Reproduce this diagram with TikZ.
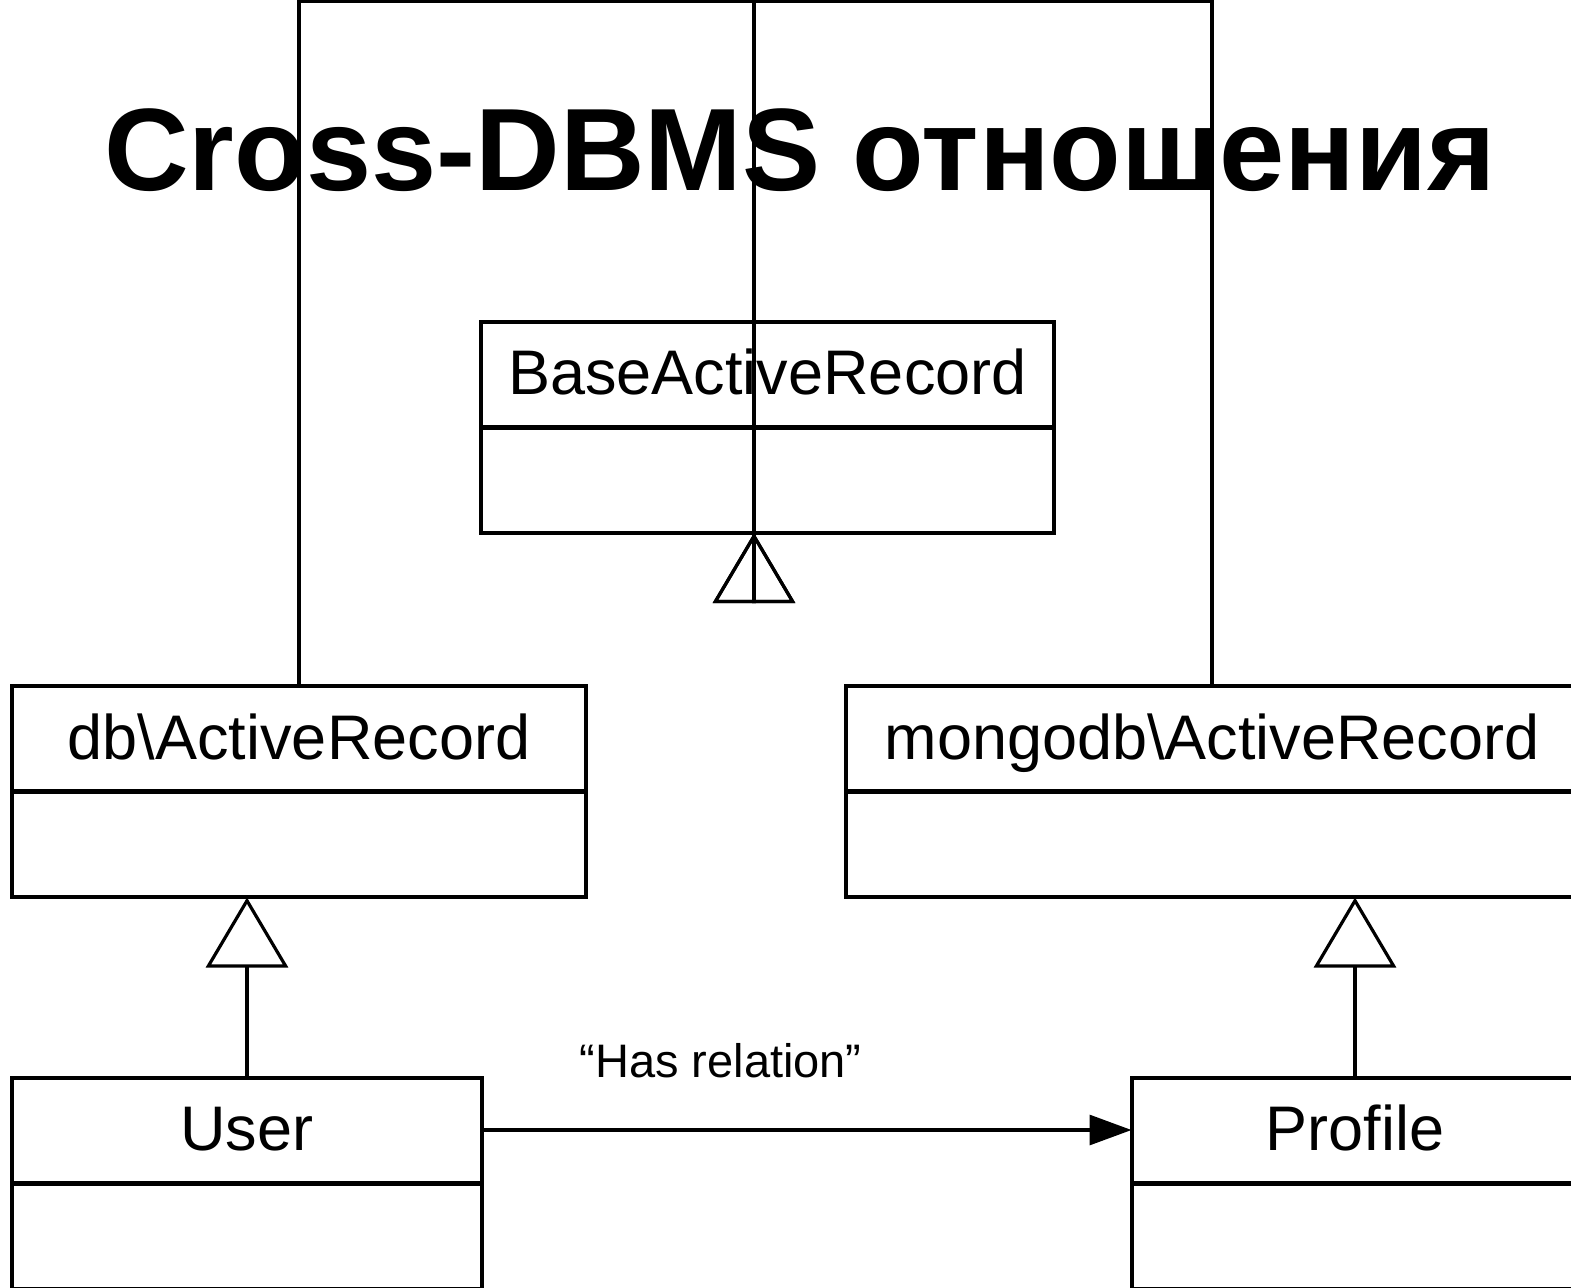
\documentclass[tikz,border=0pt]{standalone}
\usepackage{fontspec}
\setmainfont{Liberation Sans}
\usetikzlibrary{arrows.meta,positioning,calc}

\begin{document}
\begin{tikzpicture}[
    x=0.5pt, y=-0.5pt,
    classname/.style={rectangle, draw, line width=2pt, inner sep=0pt, outer sep=0.25pt, minimum height=52.5pt, font=\fontsize{31.5pt}{36pt}\selectfont, text height=22pt, text depth=1.5pt},
    classbody/.style={rectangle, draw, line width=2pt, inner sep=0pt, outer sep=0.25pt, minimum height=52.5pt},
    inherit/.style={-{Triangle[open, length=35pt, width=41pt]}, line width=1.6pt},
    relation/.style={-{Triangle[length=21pt, width=15pt]}, line width=1.6pt}
]
\useasboundingbox (0,0) rectangle (1571,1287);
\clip (0,0) rectangle (1571,1287);

% Title
\node[font=\fontsize{58.6pt}{70pt}\selectfont\bfseries, anchor=base] (title) at (800,190) {Cross-DBMS отношения};

% Base class
\node[classname, minimum width=286.5pt] (base) at (767.5,374) {BaseActiveRecord};
\node[classbody, minimum width=286.5pt, below=0pt of base] (basebody) {};

% Driver classes
\node[classname, minimum width=287pt] (dbar) at (299,738.5) {db\textbackslash ActiveRecord};
\node[classbody, minimum width=287pt, below=0pt of dbar] (dbarbody) {};
\node[classname, minimum width=366pt] (mongoar) at (1212,738.5) {mongodb\textbackslash ActiveRecord};
\node[classbody, minimum width=366pt, below=0pt of mongoar] (mongoarbody) {};

% Models
\node[classname, minimum width=235pt] (user) at (247,1130) {User};
\node[classbody, minimum width=235pt, below=0pt of user] (userbody) {};
\node[classname, minimum width=223pt] (profile) at (1355,1130) {Profile};
\node[classbody, minimum width=223pt, below=0pt of profile] (profilebody) {};

% Routing points
\coordinate (apex) at ([xshift=-6.75pt]basebody.south);
\coordinate (ridge) at (apex |- 0,1.5);
\coordinate (foot) at ([yshift=-35pt]apex);

% Inheritance
\draw[inherit] (dbar.north) |- (ridge) -- (foot) -- (apex);
\draw[inherit] (mongoar.north) |- (ridge) -- (foot) -- (apex);
\draw[inherit] (user.north) -- (user.north |- dbarbody.south);
\draw[inherit] (profile.north) -- (profile.north |- mongoarbody.south);

% Association
\draw[relation] (user.east) -- node[pos=0.367, above=25pt, inner sep=0pt, font=\fontsize{23.5pt}{28pt}\selectfont] (rel) {“Has relation”} (profile.west);

\end{tikzpicture}
\end{document}
